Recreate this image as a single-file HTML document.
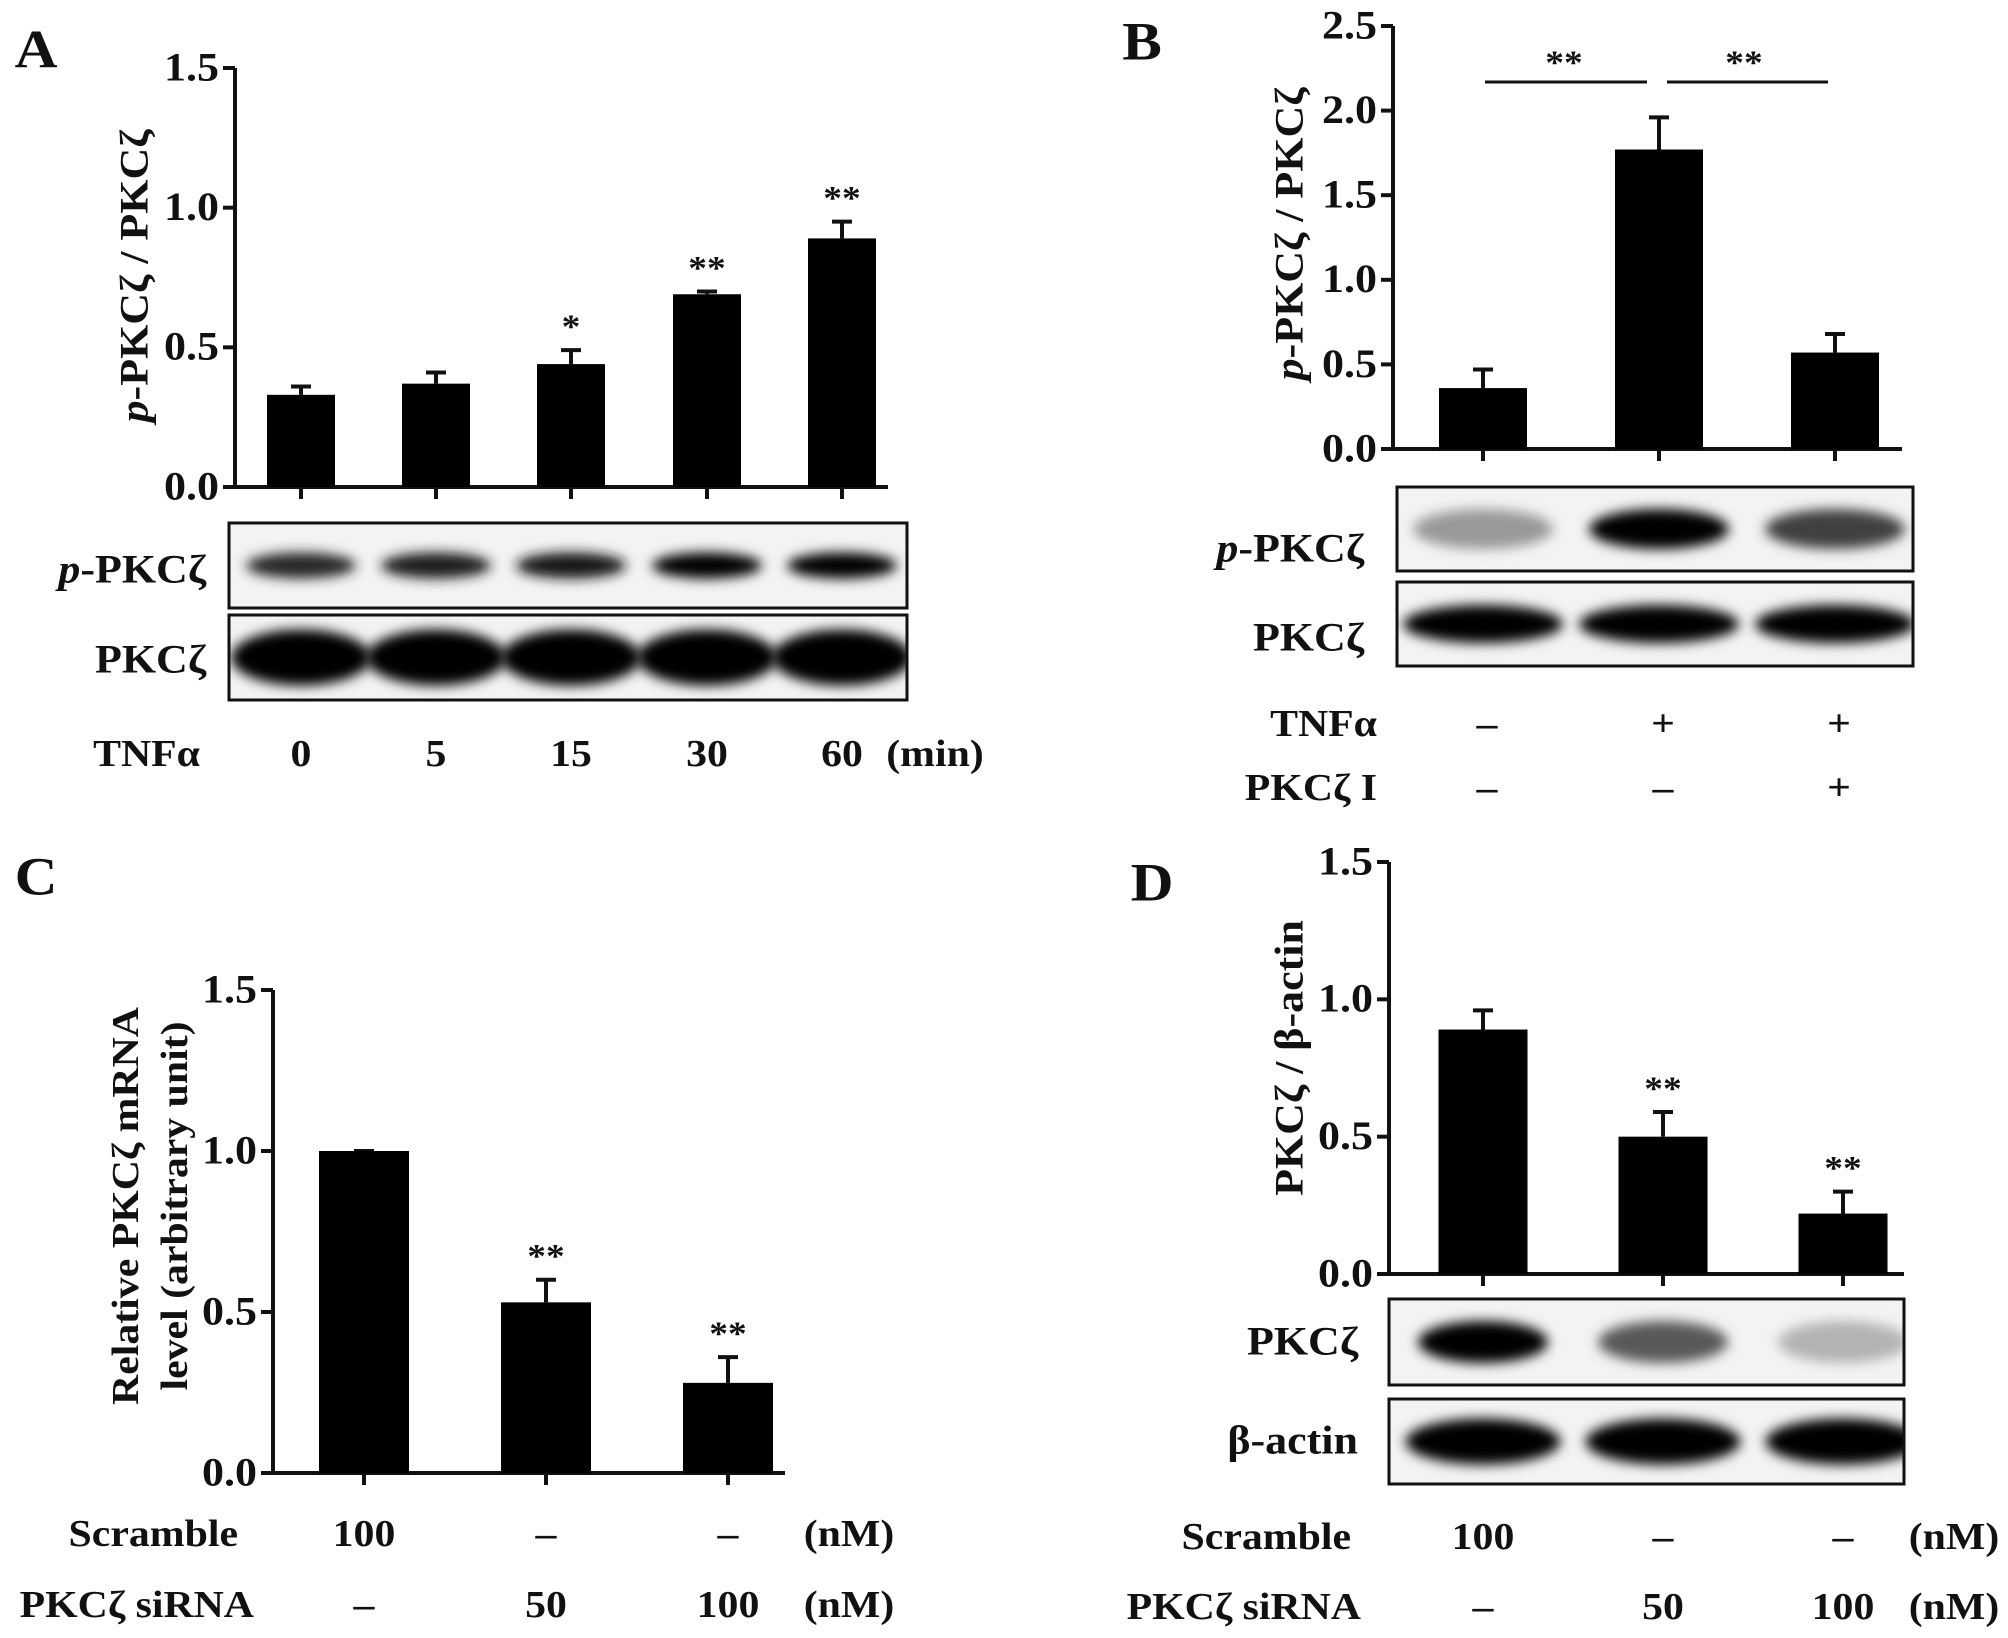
<!DOCTYPE html>
<html><head><meta charset="utf-8">
<style>
html,body{margin:0;padding:0;background:#fff;}
svg{display:block;}
text{font-family:"Liberation Serif",serif;font-weight:bold;fill:#111;}
</style></head>
<body>
<svg id="fig" width="2008" height="1638" viewBox="0 0 2008 1638" xmlns="http://www.w3.org/2000/svg">
<defs>
<filter id="blur" x="-30%" y="-60%" width="160%" height="220%"><feGaussianBlur stdDeviation="6"/></filter>
</defs>
</svg>
<script>
// ---- Panel A data ----
const aCats = ["0","5","15","30","60"];
const aVals = [0.33,0.37,0.44,0.69,0.89];
const aErr = [0.36,0.41,0.49,0.70,0.95];
const aStars = ["","","*","**","**"];
const aTicks = ["0.0","0.5","1.0","1.5"];
const aPBand = [0.85,0.88,0.92,1,1];
const aTBand = [1,1,1,1,1];
// ---- Panel B data ----
const bTnf = ["\u2013","+","+"];
const bInh = ["\u2013","\u2013","+"];
const bVals = [0.36,1.77,0.57];
const bErr = [0.47,1.96,0.68];
const bTicks = ["0.0","0.5","1.0","1.5","2.0","2.5"];
const bPBand = [0.4,1,0.75];
const bTBand = [1,1,1];
// ---- Panel C data ----
const cScr = ["100","\u2013","\u2013"];
const cSi = ["\u2013","50","100"];
const cVals = [1.0,0.53,0.28];
const cErr = [1.0,0.60,0.36];
const cStars = ["","**","**"];
const cTicks = ["0.0","0.5","1.0","1.5"];
// ---- Panel D data ----
const dScr = ["100","\u2013","\u2013"];
const dSi = ["\u2013","50","100"];
const dVals = [0.89,0.50,0.22];
const dErr = [0.96,0.59,0.30];
const dStars = ["","**","**"];
const dTicks = ["0.0","0.5","1.0","1.5"];
const dPBand = [1,0.65,0.3];
const dABand = [1,1,1];

const svg = document.getElementById('fig');
const NS = "http://www.w3.org/2000/svg";
const SX = 1.1;
let clipN = 0;
function mk(tag, attrs, parent){ const e=document.createElementNS(NS,tag); for(const k in attrs) e.setAttribute(k,attrs[k]); (parent||svg).appendChild(e); return e; }
function txt(x,y,html,size,anchor,rot){
  const t=mk('text',{x:0,y:0,'font-size':size,'text-anchor':anchor||'middle','dominant-baseline':'central',
    transform: rot ? `translate(${x},${y}) rotate(-90) scale(${SX},1)` : `translate(${x},${y}) scale(${SX},1)`});
  t.innerHTML=html; return t;
}
function axes(p){
  const y=v=>p.y0-v/p.max*(p.y0-p.yTop);
  const ax=mk('path',{d:`M${p.x0},${p.yTop} V${p.y0} H${p.x1}`,stroke:'#111','stroke-width':4,fill:'none'});
  
  
  p.ticks.forEach(tl=>{
    const v=parseFloat(tl);
    const tk=mk('line',{x1:p.x0-12,x2:p.x0,y1:y(v),y2:y(v),stroke:'#111','stroke-width':4});
    
    
    const lb=txt(p.x0-16,y(v),tl,40,'end');
    
    
  });
  p.centers.forEach((cx,i)=>{
    const tk=mk('line',{x1:cx,x2:cx,y1:p.y0,y2:p.y0+12,stroke:'#111','stroke-width':4});
    
    
    const eb=mk('path',{d:`M${cx},${y(p.vals[i])} V${y(p.err[i])} M${cx-10},${y(p.err[i])} H${cx+10}`,stroke:'#111','stroke-width':4,fill:'none'});
    
    
    const b=mk('rect',{x:cx-p.bw/2,y:y(p.vals[i]),width:p.bw,height:p.y0-y(p.vals[i]),fill:'#000'});
    
    
    if(p.stars && p.stars[i]){
      const s=txt(cx,y(p.err[i])-24,p.stars[i],34,'middle');
      
      
      s.setAttribute('fill','#333');
    }
  });
  return y;
}
function blot(x0,x1,yt,yb,centers,ints,w,h,name,extra){
  const id='clip'+(clipN++);
  const cp=mk('clipPath',{id:id});
  mk('rect',{x:x0,y:yt,width:x1-x0,height:yb-yt},cp);
  const r=mk('rect',{x:x0,y:yt,width:x1-x0,height:yb-yt,fill:'#f3f3f3'});
  
  
  const g0=mk('g',{'clip-path':`url(#${id})`});
  const cy=(yt+yb)/2;
  centers.forEach((cx,i)=>{
    const g=Math.round(255*(1-ints[i]));
    const e=mk('ellipse',{cx:cx,cy:cy,rx:w/2,ry:h/2,fill:`rgb(${g},${g},${g})`,filter:'url(#blur)'},g0);
    
    
  });
  if(extra) extra(g0,cy);
  const br=mk('rect',{x:x0,y:yt,width:x1-x0,height:yb-yt,fill:'none',stroke:'#111','stroke-width':3});
  
  
}
function label(x,y,html,size,anchor,name){
  const t=txt(x,y,html,size||37,anchor||'middle');
  
  
  return t;
}
function rlabel(x,y,html,size,name){
  const t=txt(x,y,html,size,'middle',true);
  
  
}
const P='<tspan font-style="italic">p</tspan>-PKC\u03b6';

// Panel A
const aC=[301,436,571,707,842];
label(36,50,'A',54,'middle','panel-a-letter');
axes({x0:235,x1:888,y0:487,yTop:68,max:1.5,ticks:aTicks,centers:aC,vals:aVals,err:aErr,bw:68,stars:aStars,name:'panel-a'});
rlabel(135,276,P+' / PKC\u03b6',40,'panel-a-y-axis-title');
blot(229,907,523,608,aC,aPBand,110,26,'panel-a-blot-p-pkcz');
blot(229,907,615,700,aC,aTBand,140,56,'panel-a-blot-pkcz');
label(206,570,P,40,'end','panel-a-blot-label-p');
label(206,660,'PKC\u03b6',40,'end','panel-a-blot-label-total');
label(200,753,'TNF\u03b1',38,'end','panel-a-tnfa-label');
aCats.forEach((c,i)=>{ label(aC[i],753,c,38,'middle','panel-a-x-label'); });
label(935,753,'(min)',38,'middle','panel-a-unit');

// Panel B
const bC=[1483,1659,1835];
label(1142,42,'B',54,'middle','panel-b-letter');
axes({x0:1393,x1:1902,y0:449,yTop:26,max:2.5,ticks:bTicks,centers:bC,vals:bVals,err:bErr,bw:88,name:'panel-b'});
rlabel(1290,234,P+' / PKC\u03b6',40,'panel-b-y-axis-title');
const sl1=mk('line',{x1:1485,x2:1647,y1:82,y2:82,stroke:'#111','stroke-width':3});


const sl2=mk('line',{x1:1667,x2:1828,y1:82,y2:82,stroke:'#111','stroke-width':3});


label(1564,62,'**',34,'middle','panel-b-significance').setAttribute('fill','#333');
label(1744,62,'**',34,'middle','panel-b-significance').setAttribute('fill','#333');
blot(1397,1913,487,571,bC,bPBand,140,40,'panel-b-blot-p-pkcz');
blot(1397,1913,582,666,bC,bTBand,160,38,'panel-b-blot-pkcz');
label(1364,549,P,40,'end','panel-b-blot-label-p');
label(1364,638,'PKC\u03b6',40,'end','panel-b-blot-label-total');
label(1377,723,'TNF\u03b1',38,'end','panel-b-tnfa-label');
label(1377,787,'PKC\u03b6 I',38,'end','panel-b-inhibitor-label');
bTnf.forEach((c,i)=>label(bC[i]+4,723,c,38,'middle','panel-b-tnfa-value'));
bInh.forEach((c,i)=>label(bC[i]+4,787,c,38,'middle','panel-b-inhibitor-value'));

// Panel C
const cC=[364,546,728];
label(36,877,'C',54,'middle','panel-c-letter');
axes({x0:273,x1:785,y0:1473,yTop:990,max:1.5,ticks:cTicks,centers:cC,vals:cVals,err:cErr,bw:90,stars:cStars,name:'panel-c'});
rlabel(125,1206,'Relative PKC\u03b6 mRNA',38,'panel-c-y-axis-title-line1');
rlabel(174,1206,'level  (arbitrary unit)',38,'panel-c-y-axis-title-line2');
label(238,1533,'Scramble',38,'end','panel-c-scramble-label');
label(254,1604,'PKC\u03b6 siRNA',38,'end','panel-c-sirna-label');
cScr.forEach((c,i)=>label(cC[i],1533,c,38,'middle','panel-c-scramble-value'));
cSi.forEach((c,i)=>label(cC[i],1604,c,38,'middle','panel-c-sirna-value'));
label(849,1533,'(nM)',38,'middle','panel-c-unit');
label(849,1604,'(nM)',38,'middle','panel-c-unit');

// Panel D
const dC=[1483,1663,1843];
label(1152,883,'D',54,'middle','panel-d-letter');
axes({x0:1389,x1:1904,y0:1274,yTop:862,max:1.5,ticks:dTicks,centers:dC,vals:dVals,err:dErr,bw:89,stars:dStars,name:'panel-d'});
rlabel(1290,1058,'PKC\u03b6 / \u03b2-actin',40,'panel-d-y-axis-title');
blot(1389,1904,1299,1385,dC,dPBand,130,42,'panel-d-blot-pkcz');
blot(1389,1904,1399,1484,dC,dABand,155,46,'panel-d-blot-actin');
label(1358,1342,'PKC\u03b6',40,'end','panel-d-blot-label-pkcz');
label(1358,1441,'\u03b2-actin',40,'end','panel-d-blot-label-actin');
label(1351,1536,'Scramble',38,'end','panel-d-scramble-label');
label(1361,1606,'PKC\u03b6 siRNA',38,'end','panel-d-sirna-label');
dScr.forEach((c,i)=>label(dC[i],1536,c,38,'middle','panel-d-scramble-value'));
dSi.forEach((c,i)=>label(dC[i],1606,c,38,'middle','panel-d-sirna-value'));
label(1954,1536,'(nM)',38,'middle','panel-d-unit');
label(1954,1606,'(nM)',38,'middle','panel-d-unit');
</script>
</body></html>
